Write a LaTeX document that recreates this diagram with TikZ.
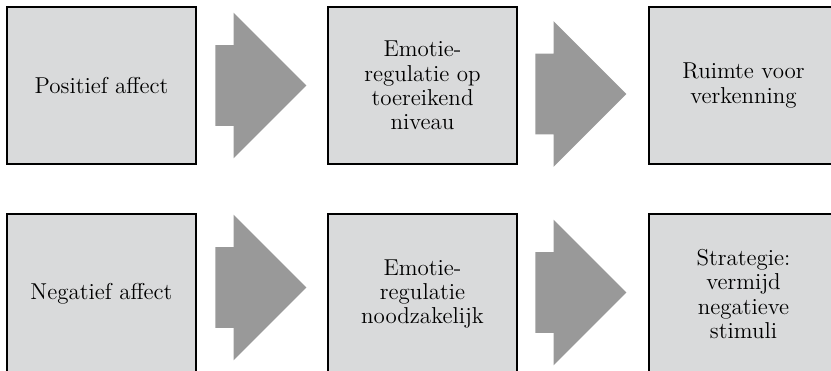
\documentclass[tikz,border=0pt]{standalone}
\usepackage{tikz}
\usetikzlibrary{shapes.arrows}
\definecolor{blokgrijs}{RGB}{217,218,219}
\definecolor{pijlgrijs}{RGB}{153,153,153}

\begin{document}
\begin{tikzpicture}
[x=0.5pt,y=-0.5pt,
blok/.style={rectangle,draw=black,fill=blokgrijs,line width=0.55pt,inner sep=2pt,
  minimum width=94.5pt,minimum height=78.5pt,align=center,
  font=\fontsize{11.5}{12.2}\selectfont},
pijl/.style={single arrow,fill=pijlgrijs,inner xsep=0pt,inner ysep=20pt,anchor=tip,
  minimum height=45.5pt,single arrow head extend=16.25pt}]
\useasboundingbox (0,0) rectangle (831,370);

\node[blok] at (101.5,85.5)  (pos)  {Positief affect};
\node[pijl] at (307,85.5)    (p1)   {};
\node[blok] at (422.5,85.5)  (reg1) {Emotie-\\regulatie op\\toereikend\\niveau};
\node[pijl] at (627,94)      (p2)   {};
\node[blok] at (743.5,85.5)  (ruim) {Ruimte voor\\verkenning};

\node[blok,minimum height=80pt] at (101.5,294) (neg)  {Negatief affect};
\node[pijl] at (307,287.5)   (p3)   {};
\node[blok,minimum height=80pt] at (422.5,294) (reg2) {Emotie-\\regulatie\\noodzakelijk};
\node[pijl] at (627,292.5)   (p4)   {};
\node[blok,minimum height=80pt] at (743.5,294) (strat) {Strategie:\\vermijd\\negatieve\\stimuli};
\end{tikzpicture}
\end{document}
